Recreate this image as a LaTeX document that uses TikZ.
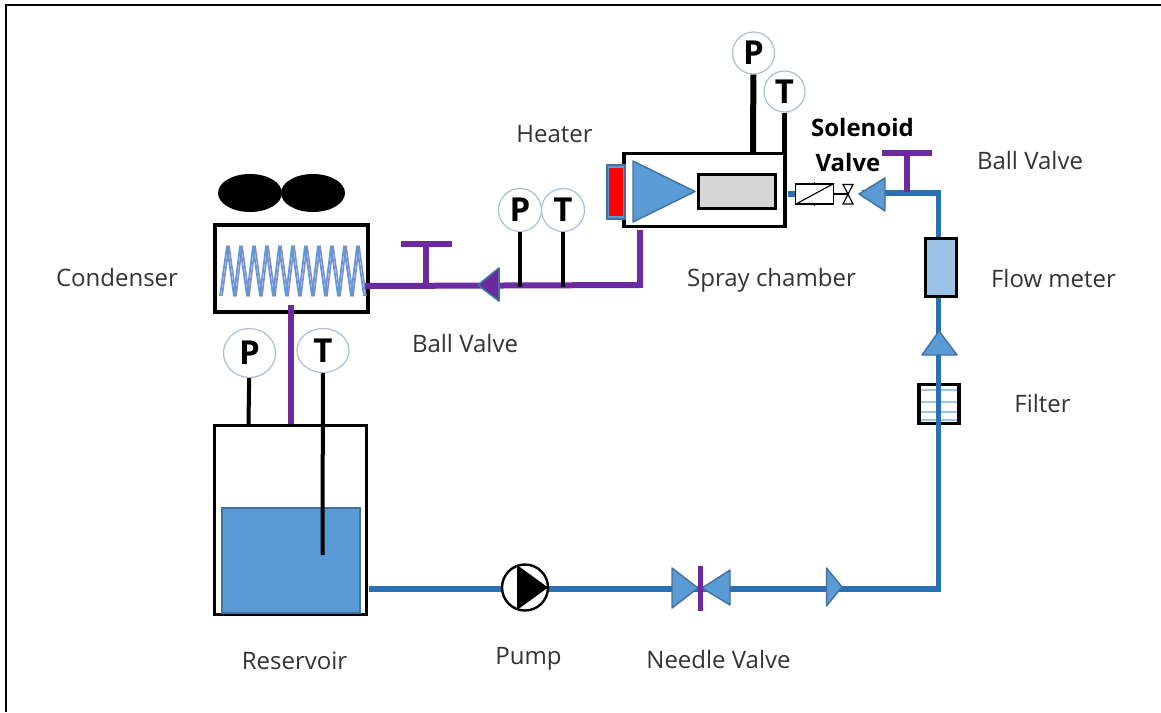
\documentclass[tikz,border=0pt]{standalone}
\usepackage{fontspec}
\usetikzlibrary{shapes.geometric}
\setmainfont{Open Sans}
\definecolor{pipeblue}{HTML}{2A70B5}
\definecolor{pipepurple}{HTML}{6B2AA0}
\definecolor{fillblue}{HTML}{5B9BD5}
\definecolor{tipblue}{HTML}{41719C}
\definecolor{meterblue}{HTML}{9DC3E6}
\definecolor{ringblue}{HTML}{A9C0D3}
\tikzset{
  x=1pt,y=-1pt,
  lab/.style={font=\fontsize{24}{26}\selectfont,text=black!80,inner sep=0pt,anchor=base},
  boldtxt/.style={font=\fontsize{24}{26}\selectfont\bfseries,text=black,inner sep=0pt,anchor=base},
  gauge/.style={circle,draw=ringblue,line width=1.2pt,fill=white,inner sep=0pt,font=\fontsize{33}{36}\selectfont\bfseries},
  box/.style={draw=black,line width=3.6pt,fill=white,inner sep=0pt},
  bluepipe/.style={draw=pipeblue,line width=5.5pt},
  purplepipe/.style={draw=pipepurple,line width=6pt},
  stem/.style={draw=black,line width=4pt},
  tri/.style={draw=tipblue,fill=fillblue,line width=1.4pt,line join=round},
}
\begin{document}
\begin{tikzpicture}
\useasboundingbox (0,0) rectangle (1161,712);
\coordinate (fa) at (6,712);
\coordinate (fb) at (6,5);
\coordinate (fc) at (1161,5);
\draw[black,line width=2pt] (fa) -- (fb) -- (fc);

% --- condenser
\node[box,minimum width=153pt,minimum height=87pt] (cond) at (291.5,268.5) {};
\fill[black] (250,193) ellipse (32 and 19);
\fill[black] (313,193) ellipse (32 and 19);
\draw[meterblue!60!pipepurple,line width=1.6pt,line join=round]
  (222,296) -- (229,246) -- (236,296) -- (242,246) -- (249,296) -- (255,246) -- (262,296) -- (268,246) -- (275,296) -- (281,246) -- (288,296) -- (294,246) -- (301,296) -- (307,246) -- (314,296) -- (320,246) -- (327,296) -- (333,246) -- (340,296) -- (346,246) -- (353,296) -- (359,246) -- (366,296);
\draw[fillblue,line width=1.8pt,line join=round]
  (220,296) -- (227,246) -- (234,296) -- (240,246) -- (247,296) -- (253,246) -- (260,296) -- (266,246) -- (273,296) -- (279,246) -- (286,296) -- (292,246) -- (299,296) -- (305,246) -- (312,296) -- (318,246) -- (325,296) -- (331,246) -- (338,296) -- (344,246) -- (351,296) -- (357,246) -- (364,296);

% --- reservoir
\node[box,minimum width=152pt,minimum height=189pt] (res) at (290.5,520) {};
\node[draw=tipblue,line width=1.5pt,fill=fillblue,minimum width=138pt,minimum height=105pt,inner sep=0pt] (liquid) at (291,560.5) {};

% --- spray chamber
\node[box,minimum width=161pt,minimum height=73pt] (spray) at (704.5,190) {};
\node[draw=black,line width=3.4pt,fill=black!16,minimum width=77pt,minimum height=34pt,inner sep=0pt] (nozzle) at (737,191.5) {};
\node[draw=tipblue,fill=fillblue,line width=1.2pt,minimum width=18pt,minimum height=54pt,inner sep=0pt] (heatback) at (616,192) {};
\node[draw=none,fill=red,minimum width=14pt,minimum height=48pt,inner sep=0pt] (heater) at (616,192) {};
\coordinate (cone1) at (633,161);
\coordinate (cone2) at (633,222);
\coordinate (conetip) at (695,191.5);
\draw[tri] (cone1) -- (conetip) -- (cone2) -- cycle;

% --- pipes: purple
\coordinate (pe1) at (365,286);
\coordinate (pe2) at (640,285);
\coordinate (pe3) at (640,230);
\draw[purplepipe,line join=miter] (pe3) -- (pe2) -- (pe1);
\coordinate (pv1) at (291,305);
\coordinate (pv2) at (291,424);
\draw[purplepipe] (pv1) -- (pv2);

% --- pipes: blue
\coordinate (bl1) at (369,589);
\coordinate (bl2) at (938.5,589);
\coordinate (bl3) at (938.5,193);
\coordinate (bl4) at (862,193);
\draw[bluepipe,line join=miter] (bl1) -- (bl2) -- (bl3) -- (bl4);
\coordinate (stub1) at (788,194);
\coordinate (stub2) at (795,194);
\draw[bluepipe] (stub1) -- (stub2);

% --- ball valve (condenser line)
\coordinate (bv1a) at (401,244);
\coordinate (bv1b) at (452,244);
\coordinate (bv1c) at (426,244);
\coordinate (bv1d) at (426,285);
\draw[purplepipe] (bv1a) -- (bv1b);
\draw[purplepipe] (bv1c) -- (bv1d);
\draw[draw=tipblue,fill=pipepurple,line width=1.6pt,line join=round] (499,268) -- (499,301) -- (478,285) -- cycle;

% --- ball valve (top right)
\coordinate (bv2a) at (882,153);
\coordinate (bv2b) at (932,153);
\coordinate (bv2c) at (906.5,153);
\coordinate (bv2d) at (906.5,192);
\draw[purplepipe] (bv2a) -- (bv2b);
\draw[purplepipe] (bv2c) -- (bv2d);
\draw[tri] (885,178) -- (885,211) -- (859,194) -- cycle;

% --- solenoid valve
\node[draw=black,line width=1.3pt,fill=white,minimum width=38pt,minimum height=20pt,inner sep=0pt] (sol) at (814.5,194) {};
\draw[black,line width=1.1pt] (sol.south west) -- (sol.north east);
\draw[black,line width=1pt] ([yshift=1.5pt]sol.north) -- (sol.north);
\draw[black,line width=1pt] ([yshift=-1.5pt]sol.south) -- (sol.south);
\coordinate (v1) at (843,184.5);
\coordinate (v2) at (853,184.5);
\coordinate (v3) at (843,204);
\coordinate (v4) at (853,204);
\coordinate (vc) at (848,194);
\draw[black,line width=1.2pt,fill=white] (v1) -- (v2) -- (v3) -- (v4) -- cycle;
\draw[black,line width=1.2pt] (sol.east) -- (vc);

% --- flow meter and filter
\node[draw=black,line width=3.4pt,fill=meterblue,minimum width=30.5pt,minimum height=58pt,inner sep=0pt] (meter) at (941,267.5) {};
\draw[tri] (939,331) -- (957,355) -- (922,355) -- cycle;
\fill[white] (919,384) rectangle (959,424);
\foreach \yy in {390,402,412,420}{
  \draw[meterblue,line width=1.4pt] (919,\yy) -- (959,\yy);
}
\node[draw=black,line width=3.4pt,minimum width=40pt,minimum height=39pt,inner sep=0pt] (filter) at (939,404) {};
\coordinate (fl1) at (938.5,383);
\coordinate (fl2) at (938.5,425);
\draw[bluepipe] (fl1) -- (fl2);

% --- pump
\node[circle,draw=black,line width=2.4pt,fill=white,minimum size=46pt,inner sep=0pt] (pump) at (525,587.5) {};
\fill[black] (517,565) -- (548,587.5) -- (517,610) -- cycle;

% --- needle valve, check valve
\draw[tri] (672,568) -- (698,588) -- (672,608) -- cycle;
\draw[tri] (730,570) -- (730,605) -- (702,588) -- cycle;
\coordinate (nv1) at (700,566);
\coordinate (nv2) at (700,611);
\draw[pipepurple,line width=5pt] (nv1) -- (nv2);
\draw[tri] (826.5,568) -- (842,587) -- (826.5,606) -- cycle;

% --- gauges
\coordinate (gp1b) at (753,152);
\coordinate (gt1b) at (784.5,152);
\coordinate (gp2b) at (520,287);
\coordinate (gt2b) at (563,287);
\coordinate (gp3b) at (248.5,424);
\coordinate (gt3b) at (322.5,555);
\node[gauge,minimum size=42pt] (gp1) at (753.5,53) {P};
\node[gauge,minimum size=41pt] (gt1) at (784.5,91.5) {T};
\node[gauge,minimum size=43pt] (gp2) at (520,210) {P};
\node[gauge,minimum size=43pt] (gt2) at (563,210) {T};
\node[gauge,ellipse,minimum width=52pt,minimum height=49pt] (gp3) at (249.5,353) {P};
\node[gauge,ellipse,minimum width=52pt,minimum height=44pt] (gt3) at (323,350.5) {T};
\draw[black,line width=6pt] (gp1) -- (gp1b);
\draw[black,line width=5pt] (gt1) -- (gt1b);
\draw[stem] (gp2) -- (gp2b);
\draw[stem] (gt2) -- (gt2b);
\draw[stem] (gp3) -- (gp3b);
\draw[stem] (gt3) -- (gt3b);

% --- labels
\node[lab] (l1) at (554.5,142) {Heater};
\node[lab] (l2) at (1030,169) {Ball Valve};
\node[lab] (l3) at (117,286) {Condenser};
\node[lab] (l4) at (771.5,286) {Spray chamber};
\node[lab] (l5) at (1053.5,287) {Flow meter};
\node[lab] (l6) at (465,352) {Ball Valve};
\node[lab] (l7) at (1042.5,412) {Filter};
\node[lab] (l8) at (294.5,669) {Reservoir};
\node[lab] (l9) at (528.5,664) {Pump};
\node[lab] (l10) at (718.5,668) {Needle Valve};
\node[boldtxt] (l11) at (862.5,136) {Solenoid};
\node[boldtxt] (l12) at (848,171) {Valve};
\end{tikzpicture}
\end{document}
